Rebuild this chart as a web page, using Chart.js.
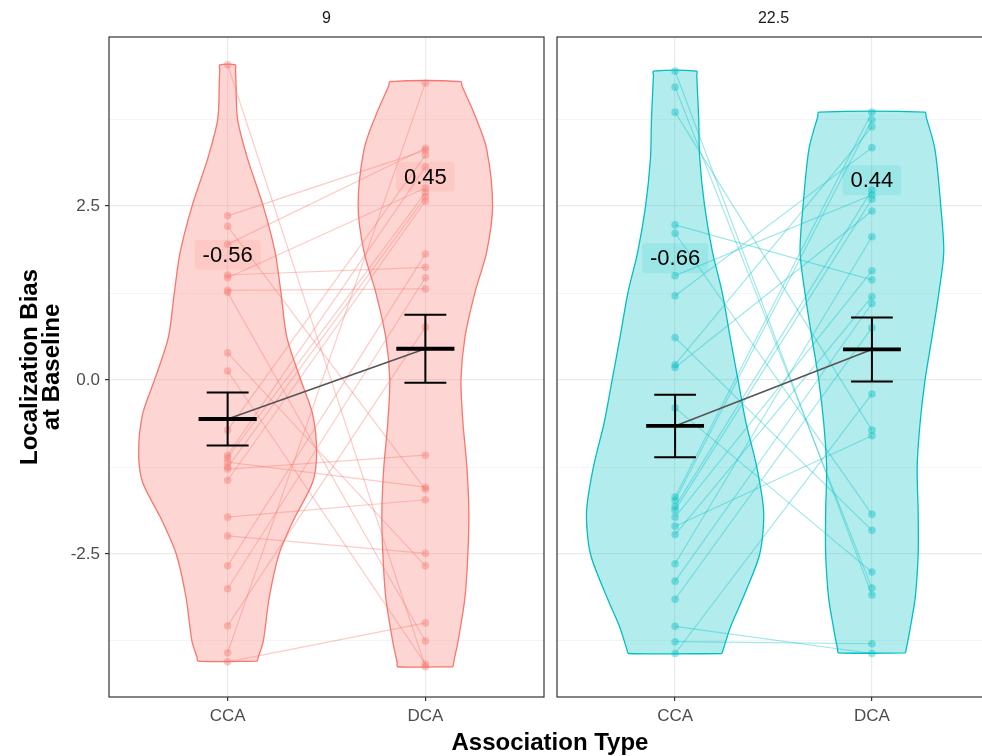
<!DOCTYPE html>
<html>
<head>
<meta charset="utf-8">
<title>Localization Bias at Baseline</title>
<script src="https://cdn.jsdelivr.net/npm/chart.js@4.4.1/dist/chart.umd.min.js"></script>
<style>
  html, body { margin: 0; padding: 0; background: #fff; overflow: hidden; }
  body { position: relative; width: 982px; height: 756px; font-family: "Liberation Sans", Arial, sans-serif; }
  canvas { position: absolute; top: 0; }
  #xTitle { position: absolute; left: 350px; width: 400px; top: 728px; line-height: 28px;
            text-align: center; font-weight: bold; font-size: 24px; color: #000; }
</style>
</head>
<body>
<canvas id="panel9" width="549" height="756" style="left:0"></canvas>
<canvas id="panel225" width="445" height="756" style="left:549px"></canvas>
<div id="xTitle">Association Type</div>
<script>
const categories = ['CCA', 'DCA'];
const panels = ['9', '22.5'];

const yGrid = [-3.75, -2.5, -1.25, 0, 1.25, 2.5, 3.75];
const yMajor = [-2.5, 0, 2.5];
const yMajorLabels = ['-2.5', '0.0', '2.5'];

// bias per subject, same index = same subject in both conditions
const cca9 = [4.53, 2.36, 2.21, 1.95, 1.51, 1.47, 1.29, 1.26, 0.39, 0.13, -0.72, -1.08,
              -1.12, -1.18, -1.25, -1.28, -1.44, -1.97, -2.24, -2.67, -3.00, -3.53, -3.92, -4.05];
const dca9 = [-4.12, 3.30, -1.57, 3.33, 1.62, 2.76, 1.31, -3.75, -2.67, -4.08, 3.23, 3.06,
              2.69, -1.54, 2.63, -1.08, 2.57, -1.72, -2.49, 1.81, 1.47, 0.76, 4.27, -3.49];
const cca225 = [4.44, 4.21, 3.85, 2.23, 2.11, 1.50, 1.21, 0.61, 0.22, 0.18, -0.40, -1.68,
                -1.73, -1.82, -1.87, -1.97, -2.10, -2.22, -2.64, -2.89, -3.15, -3.54, -3.76, -3.93];
const dca225 = [-3.09, -2.99, -0.72, 1.44, -1.93, 2.66, 3.34, -2.16, 3.64, 2.43, -2.76, 3.85,
                3.74, 2.73, 2.60, 1.57, -0.80, 1.20, 2.06, 1.10, 0.75, -3.93, -3.79, -0.20];

// group means and standard errors (CCA, DCA)
const means9 = [-0.56, 0.45];
const se9 = [0.38, 0.49];
const means225 = [-0.66, 0.44];
const se225 = [0.45, 0.46];
const labelY9 = [1.80, 2.92];
const labelY225 = [1.75, 2.87];

// violin outlines: heights (top to bottom) and half widths in category units
const violinY9cca = [4.53, 4.47, 4.30, 3.75, 3.19, 2.50, 1.84, 1.25, 0.61, 0.00, -0.49, -1.04, -1.47, -2.03, -2.50, -3.13, -3.76, -3.98, -4.04];
const violinW9cca = [0.04, 0.04, 0.042, 0.05, 0.10, 0.18, 0.24, 0.27, 0.30, 0.37, 0.43, 0.45, 0.43, 0.33, 0.26, 0.21, 0.18, 0.155, 0.15];
const violinY9dca = [4.29, 4.23, 3.81, 3.32, 2.50, 1.84, 1.25, 0.61, 0.00, -0.61, -1.25, -1.90, -2.50, -3.13, -3.76, -4.06, -4.12];
const violinW9dca = [0.18, 0.185, 0.25, 0.31, 0.34, 0.31, 0.25, 0.20, 0.18, 0.19, 0.21, 0.22, 0.215, 0.20, 0.165, 0.143, 0.14];
const violinY225cca = [4.44, 4.38, 3.75, 3.19, 2.50, 1.84, 1.25, 0.61, 0.00, -0.61, -1.25, -1.90, -2.50, -3.13, -3.56, -3.87, -3.93];
const violinW225cca = [0.11, 0.11, 0.12, 0.125, 0.15, 0.19, 0.24, 0.28, 0.32, 0.36, 0.415, 0.45, 0.43, 0.345, 0.28, 0.245, 0.237];
const violinY225dca = [3.85, 3.79, 3.32, 2.50, 1.84, 1.25, 0.61, 0.00, -0.61, -1.25, -1.90, -2.50, -3.13, -3.56, -3.86, -3.92];
const violinW225dca = [0.27, 0.275, 0.32, 0.35, 0.365, 0.34, 0.305, 0.27, 0.245, 0.23, 0.235, 0.235, 0.22, 0.195, 0.175, 0.17];

const FONT = '"Liberation Sans", Arial, sans-serif';
Chart.defaults.font.family = FONT;

const CAP = 0.106;   // half width of error bar caps
const BAR = 0.147;   // half width of the mean bar
const GAP = { x: null, y: null };

function rgba(rgb, a) {
  return `rgba(${rgb[0]},${rgb[1]},${rgb[2]},${a})`;
}

// closed outline: up the right side, down the left side
function violinPath(cx, ys, ws) {
  const right = ys.map((y, i) => ({ x: cx + ws[i], y })).reverse();
  const left = ys.map((y, i) => ({ x: cx - ws[i], y }));
  return [...right, ...left, right[0]];
}

function errorBarPoints(means, se) {
  const pts = [];
  means.forEach((m, i) => {
    const cx = i + 1, hi = m + se[i], lo = m - se[i];
    pts.push({ x: cx, y: lo }, { x: cx, y: hi }, GAP,
             { x: cx - CAP, y: hi }, { x: cx + CAP, y: hi }, GAP,
             { x: cx - CAP, y: lo }, { x: cx + CAP, y: lo }, GAP);
  });
  return pts;
}

function meanBarPoints(means) {
  const pts = [];
  means.forEach((m, i) => pts.push({ x: i + 1 - BAR, y: m }, { x: i + 1 + BAR, y: m }, GAP));
  return pts;
}

const panelFrame = {
  id: 'panelFrame',
  afterDraw(chart, args, opts) {
    const { ctx, chartArea: a } = chart;
    ctx.save();
    ctx.strokeStyle = '#333333';
    ctx.lineWidth = 1.2;
    ctx.strokeRect(a.left, a.top, a.right - a.left, a.bottom - a.top);
    ctx.fillStyle = '#1A1A1A';
    ctx.font = '16px ' + FONT;
    ctx.textAlign = 'center';
    ctx.textBaseline = 'middle';
    ctx.fillText(opts.label, (a.left + a.right) / 2, 19);
    ctx.restore();
  }
};

const meanLabels = {
  id: 'meanLabels',
  afterDatasetsDraw(chart, args, opts) {
    const { ctx } = chart;
    const x = chart.scales.x, y = chart.scales.y;
    ctx.save();
    ctx.font = '22px ' + FONT;
    ctx.textAlign = 'center';
    ctx.textBaseline = 'middle';
    opts.means.forEach((m, i) => {
      const text = m.toFixed(2);
      const px = x.getPixelForValue(i + 1);
      const py = y.getPixelForValue(opts.labelY[i]);
      const w = ctx.measureText(text).width + 16, h = 30;
      ctx.fillStyle = opts.boxColor;
      ctx.beginPath();
      ctx.roundRect(px - w / 2, py - h / 2, w, h, 4);
      ctx.fill();
      ctx.fillStyle = '#000';
      ctx.fillText(text, px, py + 1);
    });
    ctx.restore();
  }
};

function buildPanel(canvasId, opts) {
  const { cca, dca, means, se, labelY, violins, rgb, label, showY, padLeft, padRight } = opts;
  const datasets = [];

  violins.forEach((v, i) => {
    datasets.push({
      data: violinPath(i + 1, v[0], v[1]),
      showLine: true, tension: 0.28, fill: 'shape',
      backgroundColor: rgba(rgb, 0.3), borderColor: rgba(rgb, 1), borderWidth: 1.3,
      pointRadius: 0, order: 50
    });
  });

  cca.forEach((c, i) => {
    datasets.push({
      data: [{ x: 1, y: c }, { x: 2, y: dca[i] }],
      showLine: true, borderColor: rgba(rgb, 0.38), borderWidth: 1.2,
      pointRadius: 0, order: 40
    });
  });

  [cca, dca].forEach((vals, i) => {
    datasets.push({
      data: vals.map(v => ({ x: i + 1, y: v })),
      pointRadius: 3.8, pointBorderWidth: 0,
      pointBackgroundColor: rgba(rgb, 0.4), order: 30
    });
  });

  datasets.push({
    data: means.map((m, i) => ({ x: i + 1, y: m })),
    showLine: true, borderColor: '#555555', borderWidth: 1.6, pointRadius: 0, order: 20
  });
  datasets.push({
    data: errorBarPoints(means, se),
    showLine: true, spanGaps: false, borderColor: '#000', borderWidth: 2,
    borderCapStyle: 'butt', pointRadius: 0, order: 10
  });
  datasets.push({
    data: meanBarPoints(means),
    showLine: true, spanGaps: false, borderColor: '#000', borderWidth: 3.8,
    borderCapStyle: 'butt', pointRadius: 0, order: 5
  });

  return new Chart(document.getElementById(canvasId), {
    type: 'scatter',
    data: { datasets },
    options: {
      responsive: false,
      animation: false,
      events: [],
      layout: { padding: { left: padLeft, right: padRight, top: 37, bottom: 0 } },
      scales: {
        x: {
          type: 'linear', min: 0.4, max: 2.6,
          afterBuildTicks: s => { s.ticks = categories.map((c, i) => ({ value: i + 1 })); },
          afterFit: s => { s.height = 59; },
          ticks: {
            autoSkip: false, maxRotation: 0, padding: 5, color: '#4D4D4D',
            font: { size: 17 },
            callback: v => categories[v - 1]
          },
          grid: { color: '#EBEBEB', lineWidth: 1.2, tickLength: 4, tickColor: '#333333', tickWidth: 1.2 },
          border: { display: false }
        },
        y: {
          type: 'linear', min: -4.555, max: 4.93,
          afterBuildTicks: s => { s.ticks = yGrid.map(v => ({ value: v })); },
          afterFit: s => { s.width = showY ? 109 : 0; },
          ticks: {
            display: showY, padding: 5, color: '#4D4D4D', font: { size: 17 },
            callback: v => {
              const k = yMajor.indexOf(v);
              return k >= 0 ? yMajorLabels[k] : '';
            }
          },
          grid: {
            drawTicks: showY, tickLength: 4, tickWidth: 1.2,
            lineWidth: ctx => yMajor.includes(ctx.tick.value) ? 1.2 : 0.8,
            color: ctx => yMajor.includes(ctx.tick.value) ? '#EBEBEB' : '#F2F2F2',
            tickColor: ctx => yMajor.includes(ctx.tick.value) ? '#333333' : 'rgba(0,0,0,0)'
          },
          border: { display: false },
          title: {
            display: showY,
            text: ['Localization Bias', 'at Baseline'],
            color: '#000',
            font: { size: 24, weight: 'bold', lineHeight: 0.9 },
            padding: { top: 20, bottom: 0 }
          }
        }
      },
      plugins: {
        legend: { display: false },
        tooltip: { enabled: false },
        panelFrame: { label },
        meanLabels: { means, labelY, boxColor: rgba(rgb, 0.13) }
      }
    },
    plugins: [panelFrame, meanLabels]
  });
}

buildPanel('panel9', {
  cca: cca9, dca: dca9, means: means9, se: se9, labelY: labelY9,
  violins: [[violinY9cca, violinW9cca], [violinY9dca, violinW9dca]],
  rgb: [248, 118, 109], label: panels[0], showY: true, padLeft: 0, padRight: 5
});

buildPanel('panel225', {
  cca: cca225, dca: dca225, means: means225, se: se225, labelY: labelY225,
  violins: [[violinY225cca, violinW225cca], [violinY225dca, violinW225dca]],
  rgb: [0, 191, 196], label: panels[1], showY: false, padLeft: 8, padRight: 0
});
</script>
</body>
</html>
